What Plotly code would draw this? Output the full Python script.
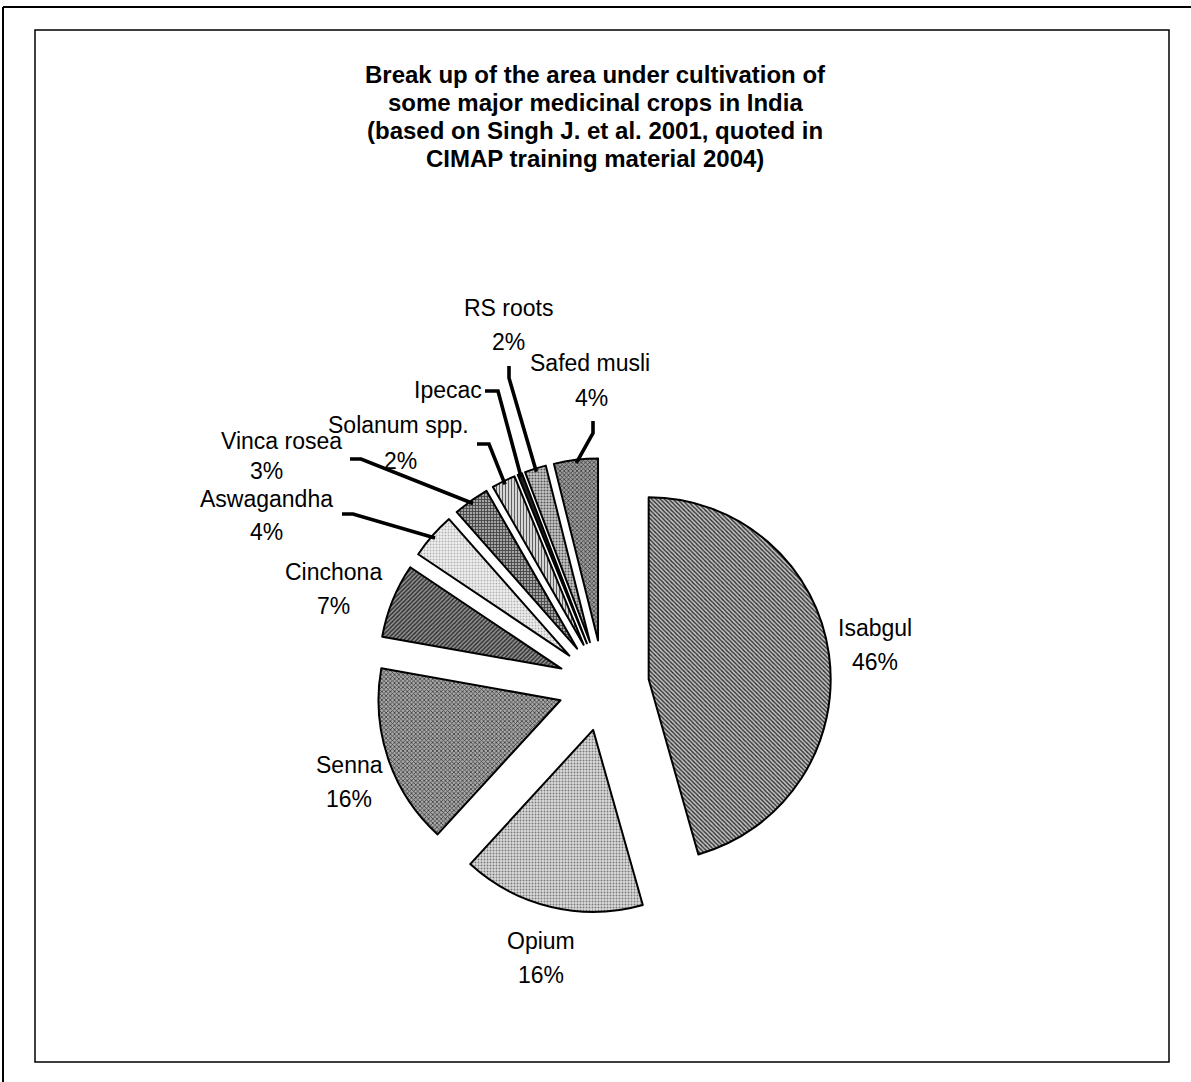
import math
import plotly.graph_objects as go

# Area under cultivation, share of total (%)
crops = ["Isabgul", "Opium", "Senna", "Cinchona", "Aswagandha", "Vinca rosea",
         "Solanum spp.", "Ipecac", "RS roots", "Safed musli"]
share = [45.6, 16.2, 16.0, 6.6, 4.1, 3.2, 2.1, 0.4, 1.9, 3.9]
show_pct = [True, True, True, True, True, True, True, False, True, True]

# Fill textures per slice
pat_shape = ["\\", ".", "x", "/", ".", "+", "|", "", ".", "x"]
pat_bg = ["#c4c4c4", "#dcdcdc", "#a8a8a8", "#969696", "#f0f0f0", "#a4a4a4",
          "#e2e2e2", "#202020", "#c8c8c8", "#9c9c9c"]
pat_fg = ["#2e2e2e", "#7a7a7a", "#3a3a3a", "#303030", "#b4b4b4", "#3a3a3a",
          "#606060", "#202020", "#555555", "#3a3a3a"]
pat_size = [3, 3, 3, 3, 3, 3, 3, 3, 3, 3]
pat_solid = [0.45, 0.35, 0.45, 0.5, 0.35, 0.45, 0.4, 0.3, 0.4, 0.45]

W, H = 1191, 1082
PULL = 0.25
CX, CY = 603.6, 685.6        # pie centre (px)
BOX = 455                    # pie box side (px)
R_OUT = BOX / 2              # radius incl. explosion

def fx(x):
    return x / W

def fy(y):
    return 1 - y / H

# label anchors (px): name line centre; percent line sits below it
label_pos = {
    "Isabgul": (875, 628), "Opium": (541, 941), "Senna": (349, 765),
    "Cinchona": (333, 572), "Aswagandha": (266, 499), "Vinca rosea": (281, 441),
    "Solanum spp.": (398, 425), "Ipecac": (448, 390), "RS roots": (508, 308),
    "Safed musli": (590, 363),
}
pct_pos = {"Vinca rosea": (266, 471), "Aswagandha": (266, 532),
           "Solanum spp.": (400, 461), "RS roots": (508, 342),
           "Safed musli": (591, 398)}
LINE_GAP = 34

# leader lines: start point near label and elbow (px)
leaders = {
    "Aswagandha": [(342, 514), (353, 514)],
    "Vinca rosea": [(350, 459), (361, 459)],
    "Solanum spp.": [(477, 444), (489, 444)],
    "Ipecac": [(485, 391), (498, 391)],
    "RS roots": [(509, 366), (509, 378)],
    "Safed musli": [(593, 421), (593, 433)],
}

fig = go.Figure()
fig.add_trace(go.Pie(
    labels=crops, values=share, sort=False, direction="clockwise", rotation=0,
    pull=[PULL] * len(crops), textinfo="none", hoverinfo="label+percent",
    showlegend=False,
    domain=dict(x=[fx(CX - BOX / 2), fx(CX + BOX / 2)],
                y=[fy(CY + BOX / 2), fy(CY - BOX / 2)]),
    marker=dict(
        colors=pat_bg,
        line=dict(color="black", width=2),
        pattern=dict(shape=pat_shape, bgcolor=pat_bg, fgcolor=pat_fg,
                     size=pat_size, solidity=pat_solid, fillmode="replace"),
    ),
))

total = sum(share)
cum = 0.0
mid_angle = {}
for name, v in zip(crops, share):
    mid_angle[name] = (cum + v / 2) / total * 2 * math.pi
    cum += v

annotations = []
label_font = dict(family="Liberation Sans, Arial", size=23, color="black")
for name, v, sp in zip(crops, share, show_pct):
    x, y = label_pos[name]
    annotations.append(dict(x=fx(x), y=fy(y), xref="paper", yref="paper",
                            text=name, showarrow=False, font=label_font,
                            xanchor="center", yanchor="middle", borderpad=0))
    if sp:
        px, py = pct_pos.get(name, (x, y + LINE_GAP))
        annotations.append(dict(x=fx(px), y=fy(py), xref="paper", yref="paper",
                                text=f"{v / total * 100:.0f}%", showarrow=False,
                                font=label_font, xanchor="center",
                                yanchor="middle", borderpad=0))

shapes = []
for name, pts in leaders.items():
    a = mid_angle[name]
    ex = CX + R_OUT * 0.985 * math.sin(a)
    ey = CY - R_OUT * 0.985 * math.cos(a)
    path = "M {} {}".format(fx(pts[0][0]), fy(pts[0][1]))
    for (x, y) in pts[1:] + [(ex, ey)]:
        path += " L {} {}".format(fx(x), fy(y))
    shapes.append(dict(type="path", path=path, xref="paper", yref="paper",
                       line=dict(color="black", width=3.6)))

# chart frame and outer border
shapes.append(dict(type="rect", xref="paper", yref="paper",
                   x0=fx(35), x1=fx(1169), y0=fy(1062), y1=fy(30),
                   line=dict(color="black", width=1.5)))
shapes.append(dict(type="line", xref="paper", yref="paper",
                   x0=fx(3), x1=fx(1191), y0=fy(7), y1=fy(7),
                   line=dict(color="black", width=2)))
shapes.append(dict(type="line", xref="paper", yref="paper",
                   x0=fx(3), x1=fx(3), y0=fy(7), y1=fy(1082),
                   line=dict(color="black", width=2)))

title_lines = ["Break up of the area under cultivation of",
               "some major medicinal crops in India",
               "(based on Singh J. et al. 2001, quoted in",
               "CIMAP training material 2004)"]
title_y = [75, 103, 131, 159]
for t, y in zip(title_lines, title_y):
    annotations.append(dict(x=fx(595), y=fy(y), xref="paper", yref="paper",
                            text="<b>" + t + "</b>", showarrow=False,
                            font=dict(family="Liberation Sans, Arial", size=24,
                                      color="black"),
                            xanchor="center", yanchor="middle"))

fig.update_layout(
    width=W, height=H, margin=dict(l=0, r=0, t=0, b=0),
    paper_bgcolor="white", plot_bgcolor="white",
    annotations=annotations, shapes=shapes,
)
fig.write_html("out.html")
